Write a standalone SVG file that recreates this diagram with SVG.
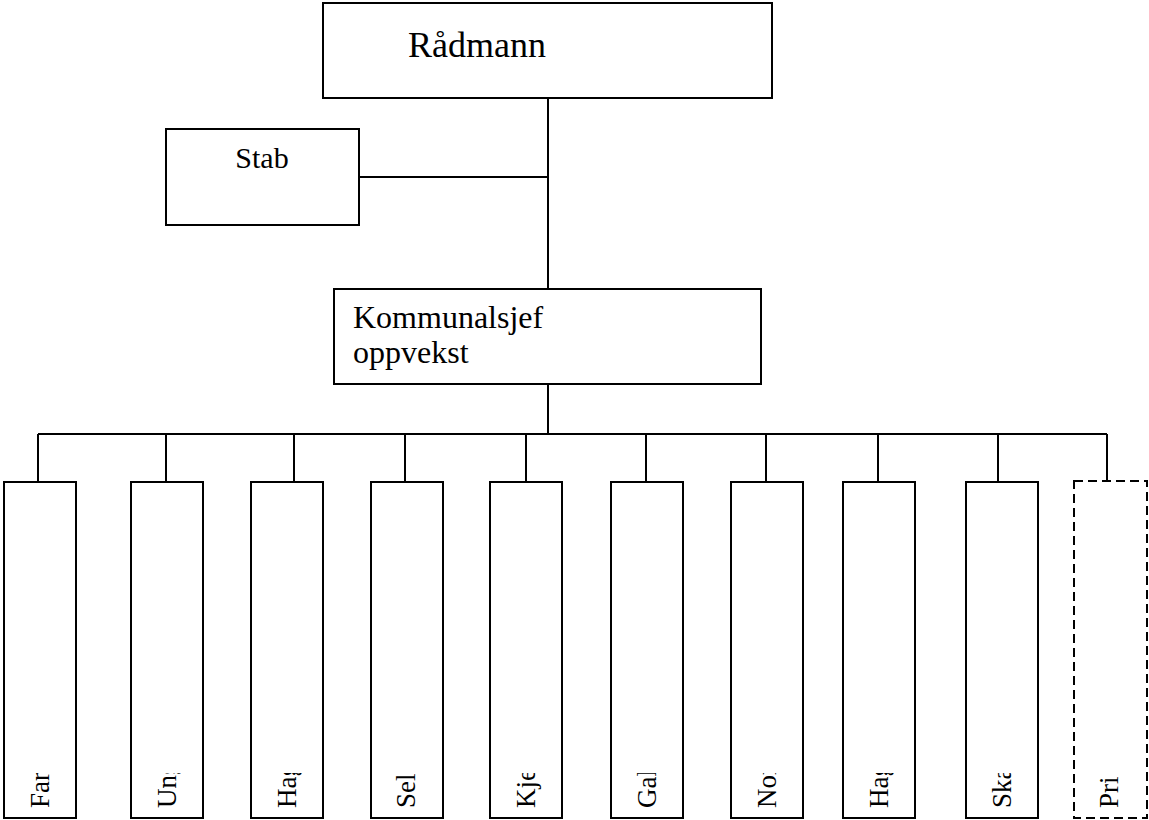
<svg xmlns="http://www.w3.org/2000/svg" width="1149" height="820" viewBox="0 0 1149 820">
<style>
.box{fill:#fff;stroke:#000;stroke-width:2}
.dash{fill:#fff;stroke:#000;stroke-width:2;stroke-dasharray:9 5}
.ln{fill:none;stroke:#000;stroke-width:2}
text{font-family:"Liberation Serif","Times New Roman",serif;fill:#000}
.v{font-size:27px}
</style>
<defs>
<clipPath id="vc" clipPathUnits="userSpaceOnUse"><rect x="0" y="773" width="1149" height="47"/></clipPath>
</defs>
<rect width="1149" height="820" fill="#fff"/>
<g id="connectors">
<path class="ln" d="M548 98V289M359 177H548M548 384V434M38 434H1107"/>
<path class="ln" d="M38 434V482M166 434V482M294 434V482M405 434V482M526 434V482M646 434V482M766 434V482M878 434V482M998 434V482M1107 434V481"/>
</g>
<g id="radmann"><rect class="box" x="323" y="3" width="449" height="95"/><text x="408" y="57" font-size="36">Rådmann</text></g>
<g id="stab"><rect class="box" x="166" y="129" width="193" height="96"/><text x="262" y="168" font-size="30" text-anchor="middle">Stab</text></g>
<g id="kommunalsjef"><rect class="box" x="334" y="289" width="427" height="95"/><text x="353" y="328" font-size="32">Kommunalsjef</text><text x="353" y="363" font-size="32">oppvekst</text></g>
<g id="n1"><rect class="box" x="4" y="482" width="72" height="336"/><g clip-path="url(#vc)"><text class="v" transform="translate(49,808) rotate(-90)">Far</text></g></g>
<g id="n2"><rect class="box" x="131" y="482" width="72" height="336"/><g clip-path="url(#vc)"><text class="v" transform="translate(176,808) rotate(-90)">Ung</text></g></g>
<g id="n3"><rect class="box" x="251" y="482" width="72" height="336"/><g clip-path="url(#vc)"><text class="v" transform="translate(296,808) rotate(-90)">Hag</text></g></g>
<g id="n4"><rect class="box" x="371" y="482" width="72" height="336"/><g clip-path="url(#vc)"><text class="v" transform="translate(415,808) rotate(-90)">Sel</text></g></g>
<g id="n5"><rect class="box" x="490" y="482" width="72" height="336"/><g clip-path="url(#vc)"><text class="v" transform="translate(535,808) rotate(-90)">Kje</text></g></g>
<g id="n6"><rect class="box" x="611" y="482" width="72" height="336"/><g clip-path="url(#vc)"><text class="v" transform="translate(656,808) rotate(-90)">Gal</text></g></g>
<g id="n7"><rect class="box" x="731" y="482" width="72" height="336"/><g clip-path="url(#vc)"><text class="v" transform="translate(776,808) rotate(-90)">Nor</text></g></g>
<g id="n8"><rect class="box" x="843" y="482" width="72" height="336"/><g clip-path="url(#vc)"><text class="v" transform="translate(888,808) rotate(-90)">Hag</text></g></g>
<g id="n9"><rect class="box" x="966" y="482" width="72" height="336"/><g clip-path="url(#vc)"><text class="v" transform="translate(1011,808) rotate(-90)">Ska</text></g></g>
<g id="n10"><rect class="dash" x="1074" y="481" width="73" height="337"/><g clip-path="url(#vc)"><text class="v" transform="translate(1118,808) rotate(-90)">Pri</text></g></g>
</svg>
